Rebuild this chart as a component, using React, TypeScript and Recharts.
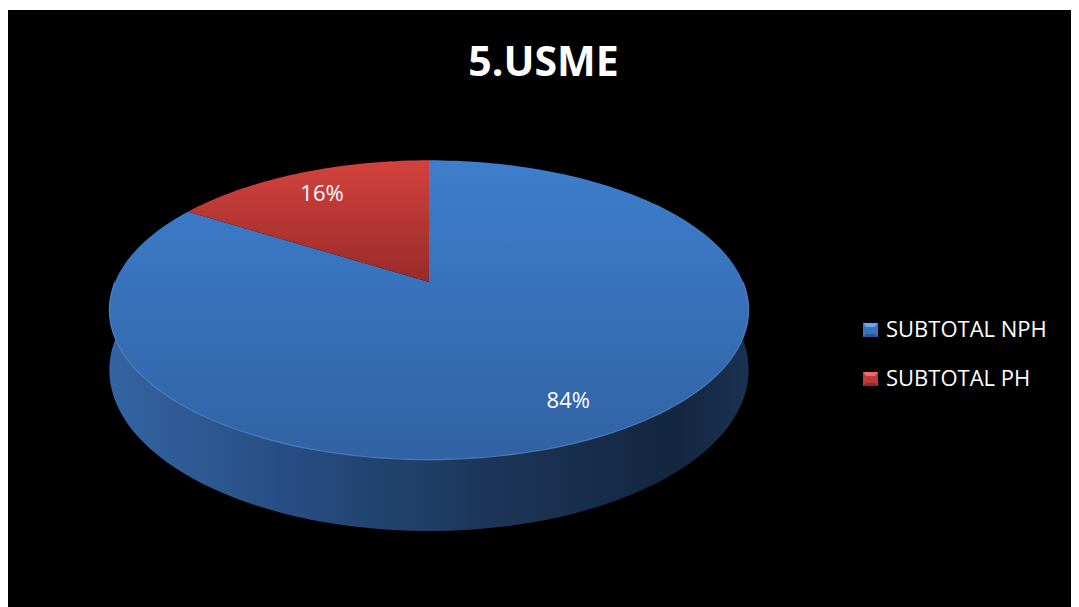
import {PieChart, Pie, Cell, Legend} from 'recharts';

import type {ReactElement} from 'react';

const NAMES = ['SUBTOTAL NPH', 'SUBTOTAL PH'];
const VALUES = [84, 16];
const COLORS = ['#3a72bb', '#c0393a'];
const TITLE = '5.USME';

const data = NAMES.map((name, i) => ({name, value: VALUES[i]}));

// fake 3D: perspective-flattened disc with a front wall
const FLAT = 0.46;
const TILT = 0.187;
const DEPTH = 58;
const RAD = Math.PI / 180;
const FONT = '"Open Sans", "Noto Sans", sans-serif';

function project(cx: number, cy: number, r: number, R: number, deg: number): [number, number, number] {
	const t = deg * RAD;
	const k = 1 / (1 + TILT * (r / R) * Math.sin(t));
	return [cx + r * Math.cos(t) * k, cy - r * FLAT * Math.sin(t) * k, k];
}

function arcPoints(cx: number, cy: number, r: number, a: number, b: number): Array<[number, number, number]> {
	const n = Math.max(8, Math.ceil(Math.abs(b - a) / 1.5));
	const pts: Array<[number, number, number]> = [];
	for (let i = 0; i <= n; i++) {
		pts.push(project(cx, cy, r, r, a + ((b - a) * i) / n));
	}
	return pts;
}

function Slice3D(props: any): ReactElement {
	const {cx, cy, outerRadius, startAngle, endAngle} = props;
	const idx = Math.max(0, NAMES.indexOf(props.payload?.name ?? props.name));
	const lo = Math.min(startAngle, endAngle);
	const hi = Math.max(startAngle, endAngle);

	const walls: ReactElement[] = [];
	const rims: ReactElement[] = [];
	for (let k = -2; k <= 2; k++) {
		const a = Math.max(lo, -180 + 360 * k);
		const b = Math.min(hi, 360 * k);
		if (b - a <= 0.01) continue;
		const top = arcPoints(cx, cy, outerRadius, a, b);
		const bottom = top.map(([x, y, s]) => [x, y + DEPTH * s] as [number, number]).reverse();
		const d = 'M' + top.map(([x, y]) => `${x},${y}`).join('L') + 'L' + bottom.map(([x, y]) => `${x},${y}`).join('L') + 'Z';
		walls.push(<path key={`w${k}`} d={d} fill={`url(#side-${idx})`} />);
		rims.push(
			<path
				key={`r${k}`}
				d={'M' + top.map(([x, y]) => `${x},${y}`).join('L')}
				fill={'none'}
				stroke={idx === 0 ? '#5d8fd2' : '#e06a66'}
				strokeWidth={1.2}
				strokeOpacity={0.7}
			/>
		);
	}

	const face = arcPoints(cx, cy, outerRadius, startAngle, endAngle);
	const faceD = `M${cx},${cy}L` + face.map(([x, y]) => `${x},${y}`).join('L') + 'Z';

	return (
		<g>
			{walls}
			<path d={faceD} fill={`url(#top-${idx})`} />
			{rims}
		</g>
	);
}

function renderLabel(props: any): ReactElement {
	const {cx, cy, midAngle, outerRadius, percent} = props;
	const [x, y] = project(cx, cy, outerRadius * 0.8, outerRadius, midAngle);
	return (
		<text x={x} y={y} fill={'#ffffff'} textAnchor={'middle'} dominantBaseline={'central'} fontSize={22} fontFamily={FONT}>
			{`${Math.round(percent * 100)}%`}
		</text>
	);
}

function renderLegend(): ReactElement {
	return (
		<div style={{fontFamily: FONT, fontSize: 22, lineHeight: '22px', color: '#ffffff'}}>
			{NAMES.map((name, i) => (
				<div key={name} style={{display: 'flex', alignItems: 'flex-start', height: 48.5, whiteSpace: 'nowrap'}}>
					<svg width={15} height={14} style={{marginTop: 6, marginRight: 8}}>
						<rect x={0} y={0} width={15} height={14} fill={COLORS[i]} />
						<polygon points={'0,0 15,0 12,4 3,4'} fill={i === 0 ? '#6aa6ee' : '#e8706b'} />
						<polygon points={'0,14 15,14 12,11 3,11'} fill={i === 0 ? '#2a5794' : '#922927'} />
					</svg>
					<span>{name}</span>
				</div>
			))}
		</div>
	);
}

function App(): ReactElement {
	return (
		<div style={{position: 'relative', marginTop: 2, width: 1071, height: 597, background: '#000000'}}>
			<div
				style={{
					position: 'absolute',
					top: 30,
					left: 0,
					width: 1071,
					textAlign: 'center',
					fontFamily: FONT,
					fontWeight: 700,
					fontSize: 41,
					lineHeight: '41px',
					color: '#ffffff'
				}}
			>
				{TITLE}
			</div>
			<PieChart width={1071} height={597} margin={{top: 0, right: 0, bottom: 0, left: 0}}>
				<defs>
					<linearGradient id={'top-0'} x1={0} y1={0} x2={0} y2={1}>
						<stop offset={'0%'} stopColor={'#3e7ecc'} />
						<stop offset={'100%'} stopColor={'#3162a4'} />
					</linearGradient>
					<linearGradient id={'top-1'} x1={0} y1={0} x2={0} y2={1}>
						<stop offset={'0%'} stopColor={'#d3423e'} />
						<stop offset={'100%'} stopColor={'#982b29'} />
					</linearGradient>
					<linearGradient id={'side-0'} x1={0} y1={0} x2={1} y2={0}>
						<stop offset={'0%'} stopColor={'#3464a3'} />
						<stop offset={'30%'} stopColor={'#264c80'} />
						<stop offset={'60%'} stopColor={'#1c3558'} />
						<stop offset={'88%'} stopColor={'#132640'} />
						<stop offset={'100%'} stopColor={'#1a3150'} />
					</linearGradient>
					<linearGradient id={'side-1'} x1={0} y1={0} x2={1} y2={0}>
						<stop offset={'0%'} stopColor={'#a02e2c'} />
						<stop offset={'100%'} stopColor={'#4a1514'} />
					</linearGradient>
				</defs>
				<Pie
					data={data}
					dataKey={'value'}
					nameKey={'name'}
					cx={421}
					cy={272}
					outerRadius={314}
					startAngle={90}
					endAngle={-270}
					stroke={'none'}
					shape={Slice3D}
					label={renderLabel}
					labelLine={false}
					isAnimationActive={false}
				>
					{data.map((d, i) => (
						<Cell key={d.name} fill={COLORS[i]} />
					))}
				</Pie>
				<Legend
					content={renderLegend}
					layout={'vertical'}
					verticalAlign={'top'}
					align={'right'}
					wrapperStyle={{left: 855, top: 307, width: 210}}
				/>
			</PieChart>
		</div>
	);
}

export default App;
